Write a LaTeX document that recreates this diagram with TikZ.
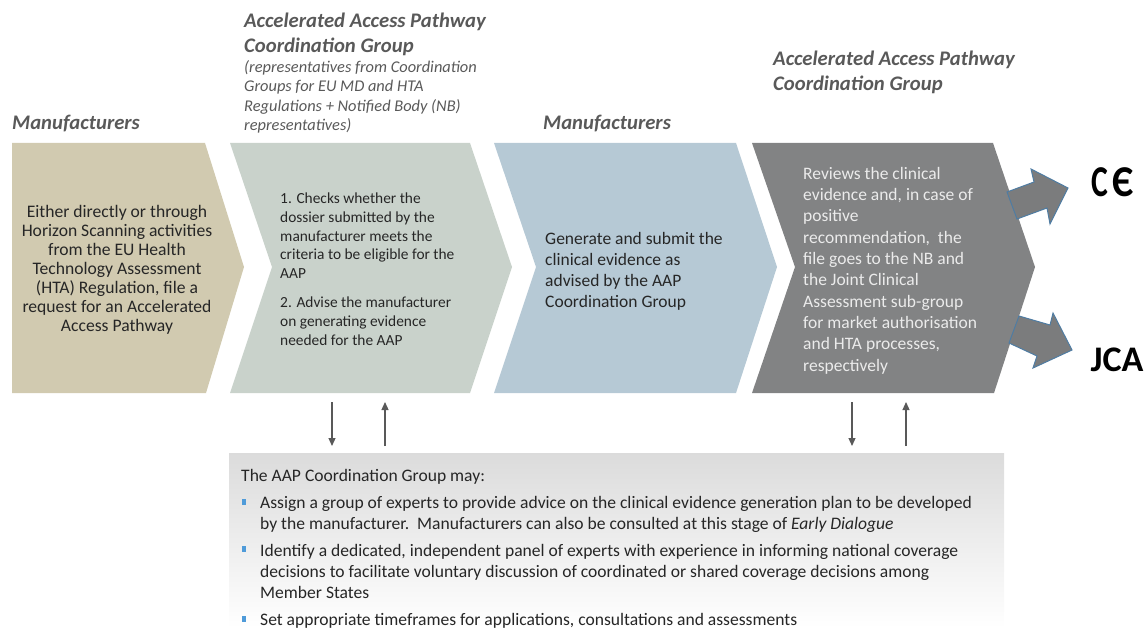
\documentclass[tikz,border=0pt]{standalone}
\usepackage{fontspec}
\usepackage{graphicx}
\setmainfont{Carlito}
\usetikzlibrary{arrows.meta}
\definecolor{tan1}{HTML}{D1CAB0}
\definecolor{sage}{HTML}{C9D2CB}
\definecolor{sky}{HTML}{B6C9D5}
\definecolor{slate}{HTML}{828384}
\definecolor{hdr}{HTML}{595959}
\definecolor{txt}{HTML}{262626}
\definecolor{bullet}{HTML}{4F9BD9}
\definecolor{arrowedge}{HTML}{4F7CA3}
\tikzset{
  x=1pt,y=-1pt,
  hdrtxt/.style={inner sep=0pt,anchor=base west,align=left,text=hdr,font=\fontsize{20.7}{25}\selectfont\bfseries\itshape},
  subtxt/.style={inner sep=0pt,anchor=north west,align=left,text=hdr,font=\fontsize{16.4}{19.3}\selectfont\itshape},
  boxtxt/.style={inner sep=0pt,anchor=north west,align=left,text=txt,font=\fontsize{15.4}{18.7}\selectfont},
  midtxt/.style={inner sep=0pt,align=center,text=txt,font=\fontsize{17.6}{19}\selectfont},
  revtxt/.style={inner sep=0pt,anchor=north west,align=left,text=white!92!black,font=\fontsize{17.5}{21.3}\selectfont},
  bigarrow/.style={fill=slate!95!black,draw=arrowedge,line width=1pt,line join=miter},
  thin arrow/.style={draw=hdr,line width=1.2pt,-{Triangle[length=8pt,width=7pt]}},
  bullettxt/.style={inner sep=0pt,anchor=north west,align=left,text=txt,font=\fontsize{17.55}{21}\selectfont},
  bulletdot/.style={fill=bullet,inner sep=0pt,minimum width=4.5pt,minimum height=6pt}
}
\begin{document}
\begin{tikzpicture}
\useasboundingbox (0,0) rectangle (1147,628);
% chevrons
\fill[tan1] (12,143) -- (205,143) -- (244,267) -- (206,393) -- (12,393) -- cycle;
\fill[sage] (230,143) -- (470,143) -- (512,267) -- (470,393) -- (230,393) -- (272,267) -- cycle;
\fill[sky] (494,143) -- (736,143) -- (777,267) -- (736,393) -- (494,393) -- (536,267) -- cycle;
\fill[slate] (752,143) -- (993,143) -- (1035,267) -- (994,393) -- (752,393) -- (795,267) -- cycle;
% big arrows
\draw[bigarrow] (1007,192) -- (1034,182) -- (1031,169) -- (1068,188) -- (1050,224) -- (1047,208) -- (1017,219) -- cycle;
\draw[bigarrow] (1019,316) -- (1050,325) -- (1053,313) -- (1072,350) -- (1033,368) -- (1037,356) -- (1009,343) -- cycle;
% headers
\node[hdrtxt] (h1) at (12,130) {Manufacturers};
\node[hdrtxt,anchor=north west] (h2) at (244,13) {Accelerated Access Pathway\\Coordination Group};
\node[subtxt] (h2s) at (244,60.5) {(representatives from Coordination\\Groups for EU MD and HTA\\Regulations + Notified Body (NB)\\representatives)};
\node[hdrtxt] (h3) at (543,130) {Manufacturers};
\node[hdrtxt,anchor=north west] (h4) at (773,51) {Accelerated Access Pathway\\Coordination Group};
% box text
\node[midtxt] (t1) at (117,270) {Either directly or through\\Horizon Scanning activities\\from the EU Health\\Technology Assessment\\(HTA) Regulation, file a\\request for an Accelerated\\Access Pathway};
\node[boxtxt] (t2a) at (280,193) {1. Checks whether the\\dossier submitted by the\\manufacturer meets the\\criteria to be eligible for the\\AAP};
\node[boxtxt] (t2b) at (280,297) {2. Advise the manufacturer\\on generating evidence\\needed for the AAP};
\node[midtxt,anchor=north west,align=left,font=\fontsize{17.5}{21}\selectfont] (t3) at (545,232) {Generate and submit the\\clinical evidence as\\advised by the AAP\\Coordination Group};
\node[revtxt] (t4) at (803,167) {Reviews the clinical\\evidence and, in case of\\positive\\recommendation,\ \ the\\file goes to the NB and\\the Joint Clinical\\Assessment sub-group\\for market authorisation\\and HTA processes,\\respectively};
% marks
\node[inner sep=0pt,font=\fontsize{44}{44}\selectfont\bfseries] (ce) at (1113,182) {\scalebox{.72}[1]{C}\hspace{4pt}\scalebox{.9}[1]{Є}};
\node[inner sep=0pt,font=\fontsize{36}{36}\selectfont\bfseries] (jca) at (1117,360) {JCA};
% bottom panel
\node[inner sep=0pt,minimum width=775pt,minimum height=175pt,anchor=north west,top color=black!14,bottom color=white,middle color=black!7] (panel) at (229,453) {};
\coordinate (a1s) at (332,402); \coordinate (a1e) at (332,446);
\coordinate (a2s) at (385,446); \coordinate (a2e) at (385,402);
\coordinate (a3s) at (852,402); \coordinate (a3e) at (852,446);
\coordinate (a4s) at (906,446); \coordinate (a4e) at (906,402);
\draw[thin arrow] (a1s) -- (a1e);
\draw[thin arrow] (a2s) -- (a2e);
\draw[thin arrow] (a3s) -- (a3e);
\draw[thin arrow] (a4s) -- (a4e);
\node[bullettxt] (p0) at (241,469) {The AAP Coordination Group may:};
\node[bullettxt] (p1) at (260,496) {Assign a group of experts to provide advice on the clinical evidence generation plan to be developed\\by the manufacturer.\ \ Manufacturers can also be consulted at this stage of \textit{Early Dialogue}};
\node[bullettxt] (p2) at (260,544) {Identify a dedicated, independent panel of experts with experience in informing national coverage\\decisions to facilitate voluntary discussion of coordinated or shared coverage decisions among\\Member States};
\node[bullettxt] (p3) at (260,613) {Set appropriate timeframes for applications, consultations and assessments};
\node[bulletdot] (b1) at (244,502) {};
\node[bulletdot] (b2) at (244,549) {};
\node[bulletdot] (b3) at (244,619) {};
\end{tikzpicture}
\end{document}
